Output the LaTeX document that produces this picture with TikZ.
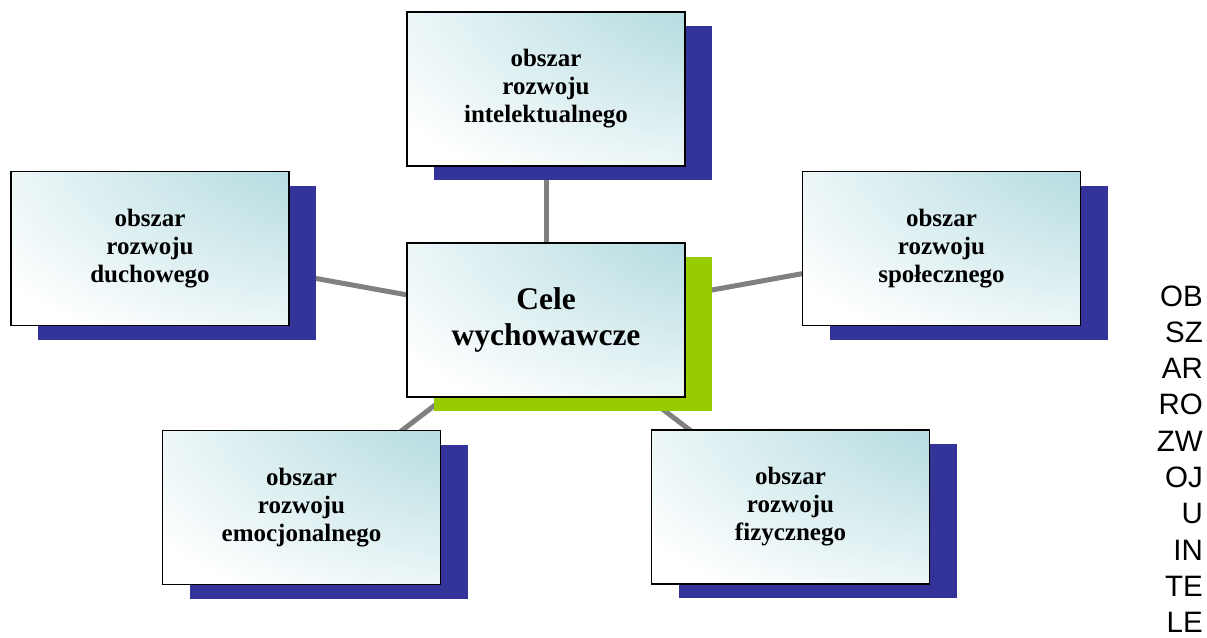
\documentclass[tikz,border=0pt]{standalone}
\usepackage{fontspec}
\setmainfont{Liberation Serif}
\newfontfamily\lettersfont{Liberation Sans}
\usepackage{tikz}
\usetikzlibrary{positioning,shadows,backgrounds}
\definecolor{boxcyan}{RGB}{185,222,226}
\definecolor{shadeblue}{RGB}{51,51,153}
\definecolor{shadegreen}{RGB}{153,204,0}
\definecolor{linkgray}{RGB}{128,128,128}
\pgfdeclareradialshading{boxshade}{\pgfpoint{50bp}{50bp}}{color(0bp)=(boxcyan);
	color(28bp)=(boxcyan); color(50bp)=(boxcyan!50!white); color(72bp)=(white); color(200bp)=(white)}

\begin{document}
\begin{tikzpicture}
	[x=1pt,y=-1pt,
	area/.style={rectangle,draw=black,line width=1.5pt,minimum width=278pt,minimum height=154pt,
		shading=boxshade,align=center,
		font=\fontsize{25}{28}\selectfont\bfseries,
		drop shadow={shadow xshift=27pt,shadow yshift=-14pt,fill=shadeblue,opacity=1,draw=none}},
	goal/.style={area,font=\fontsize{31.5}{36}\selectfont\bfseries,
		drop shadow={shadow xshift=27pt,shadow yshift=-14pt,fill=shadegreen,opacity=1,draw=none}},
	link/.style={draw=linkgray,line width=5pt},
	vlet/.style={font=\fontsize{29.5}{29.5}\selectfont\lettersfont,inner sep=0pt,anchor=base east}]
	\useasboundingbox (0,0) rectangle (1207,637);
	%BOXES
	\node[goal] (cele) at (546,320) {Cele\\wychowawcze};
	\node[area] (intel) at (546,89) {obszar\\rozwoju\\intelektualnego};
	\node[area] (duch) at (150,248.5) {obszar\\rozwoju\\duchowego};
	\node[area] (spol) at (941.5,248.5) {obszar\\rozwoju\\społecznego};
	\node[area] (emoc) at (301.5,507.5) {obszar\\rozwoju\\emocjonalnego};
	\node[area] (fiz) at (790.5,507) {obszar\\rozwoju\\fizycznego};
	%LINKS
	\begin{scope}[on background layer]
	\foreach \b in {intel,duch,spol,emoc,fiz}
		\path[link] (cele.center) -- (\b.center);
	\end{scope}
	%LETTERS
	\foreach \t [count=\i] in {OB,SZ,AR,RO,ZW,OJ,U,IN,TE,LE}
		\node[vlet] (let\i) at (1203,{306+36.3*(\i-1)}) {\t};
\end{tikzpicture}
\end{document}
